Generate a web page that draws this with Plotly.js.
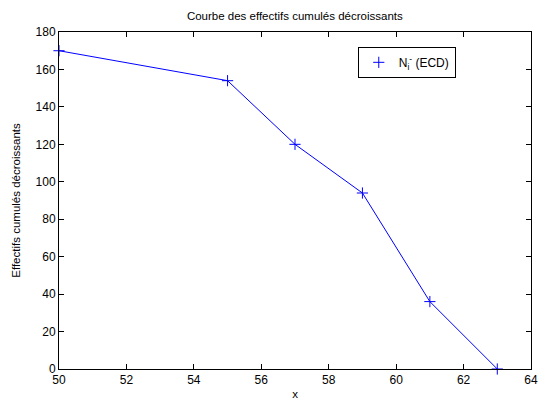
<!DOCTYPE html>
<html>
<head>
<meta charset="utf-8">
<script src="https://cdn.plot.ly/plotly-3.0.1.min.js"></script>
<style>html,body{margin:0;padding:0;background:#fff;}#chart{width:538px;height:400px;}</style>
</head>
<body>
<div id="chart"></div>
<script>
const xValues = [50, 55, 57, 59, 61, 63];
const ecdValues = [170, 154, 120, 94, 36, 0];
const xTicks = [50, 52, 54, 56, 58, 60, 62, 64];
const yTicks = [0, 20, 40, 60, 80, 100, 120, 140, 160, 180];
const seriesName = 'N<sub>i</sub><sup>-</sup> (ECD)';

const font = {family: 'Liberation Sans, Arial, sans-serif', size: 12, color: '#000'};
const smallFont = {family: 'Liberation Sans, Arial, sans-serif', size: 11.5, color: '#000'};

const traces = [
  {x: xValues, y: ecdValues, mode: 'lines', line: {color: '#0000ff', width: 1}, showlegend: false, hoverinfo: 'skip', cliponaxis: false},
  {x: xValues, y: ecdValues, mode: 'markers', name: seriesName,
   marker: {symbol: 'cross-thin', size: 8, color: '#0000ff', line: {color: '#0000ff', width: 1}}, cliponaxis: false}
];

const axisCommon = {
  showgrid: false, zeroline: false, showline: true, linecolor: '#000', linewidth: 1,
  mirror: 'ticks', ticks: 'inside', ticklen: 5, tickcolor: '#000', tickwidth: 1,
  tickfont: font
};

const layout = {
  width: 538, height: 400,
  margin: {l: 59, r: 7, t: 32, b: 31},
  paper_bgcolor: '#fff', plot_bgcolor: '#fff',
  font: font,
  title: {text: 'Courbe des effectifs cumulés décroissants', font: smallFont, x: 0.548, xanchor: 'center', y: 0.96, yanchor: 'middle'},
  xaxis: Object.assign({}, axisCommon, {range: [50, 64], tickvals: xTicks, ticktext: xTicks.map(String),
    title: {text: 'x', font: smallFont, standoff: 13}}),
  yaxis: Object.assign({}, axisCommon, {range: [0, 180], tickvals: yTicks, ticktext: yTicks.map(String),
    title: {text: 'Effectifs cumulés décroissants', font: smallFont, standoff: 12}}),
  legend: {x: 0.633, y: 0.956, xanchor: 'left', yanchor: 'top', bordercolor: '#000', borderwidth: 1,
    bgcolor: '#fff', font: font, entrywidth: 118},
  showlegend: true
};

Plotly.newPlot('chart', traces, layout, {displayModeBar: false, staticPlot: true});
</script>
</body>
</html>
